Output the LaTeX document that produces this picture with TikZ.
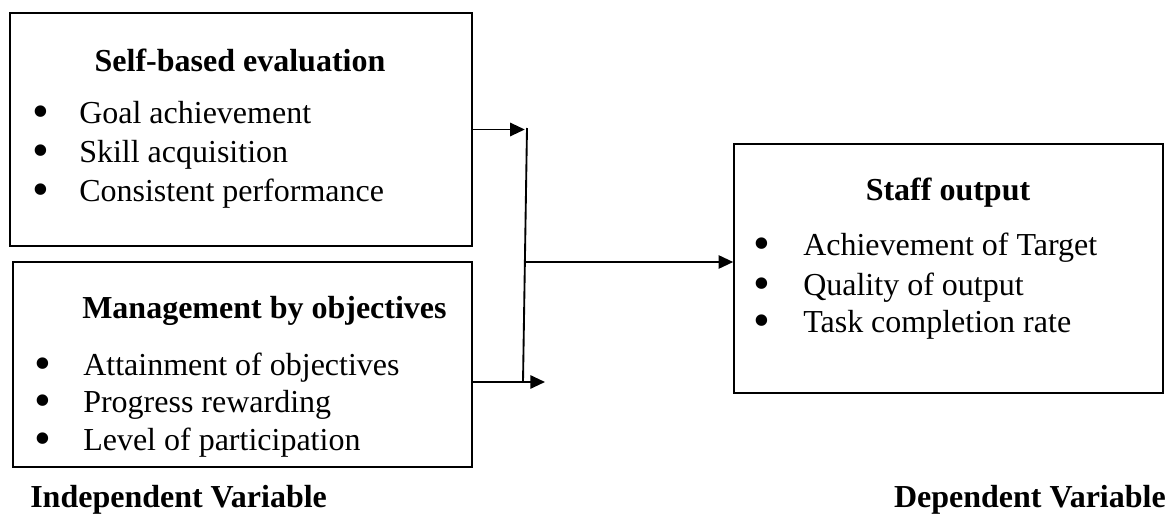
\documentclass[tikz,border=0pt]{standalone}
\usepackage{fontspec}
\setmainfont{Liberation Serif}
\usetikzlibrary{arrows.meta}

\newcommand{\blt}{\smash{\raisebox{-3.6pt}{\scalebox{1.5}{•}}}}
\newcommand{\bitem}[2][28.5pt]{\makebox[0pt]{\blt}\hspace{#1}#2}

\tikzset{
  varbox/.style={draw, line width=1.2pt, inner sep=0pt},
  txt/.style={inner sep=0pt, font=\fontsize{24}{29}\selectfont},
  hdr/.style={txt, font=\fontsize{24}{29}\selectfont\bfseries},
  link/.style={line width=1.4pt},
  tolink/.style={link, -{Triangle[length=11pt,width=10pt]}}
}

\begin{document}
\begin{tikzpicture}[x=0.75pt,y=0.75pt,yscale=-1,xscale=1]
    \useasboundingbox (0,0) rectangle (1168,514);

    %Shape: Rectangle [self-based evaluation]
    \node (seb) [varbox, minimum width=346.5pt, minimum height=174.75pt] at (241,129.5) {};
    %Shape: Rectangle [management by objectives]
    \node (mbo) [varbox, minimum width=344.25pt, minimum height=153.75pt] at (242.5,364.5) {};
    %Shape: Rectangle [staff output]
    \node (sto) [varbox, minimum width=321.75pt, minimum height=186.75pt] at (948.5,268.5) {};

    % Text Node
    \node (sebt) [hdr, anchor=base] at (240,71) {Self-based evaluation};
    \node (seb1) [txt, anchor=base west] at (41,123) {\bitem{Goal achievement}};
    \node (seb2) [txt, anchor=base west] at (41,162) {\bitem{Skill acquisition}};
    \node (seb3) [txt, anchor=base west] at (41,201) {\bitem{Consistent performance}};

    % Text Node
    \node (mbot) [hdr, anchor=base west] at (82,318) {Management by objectives};
    \node (mbo1) [txt, anchor=base west] at (43,375) {\bitem[30pt]{Attainment of objectives}};
    \node (mbo2) [txt, anchor=base west] at (43,412) {\bitem[30pt]{Progress rewarding}};
    \node (mbo3) [txt, anchor=base west] at (43,450) {\bitem[30pt]{Level of participation}};

    % Text Node
    \node (stot) [hdr, anchor=base] at (948,200) {Staff output};
    \node (sto1) [txt, anchor=base west] at (762,255) {\bitem[30.75pt]{Achievement of Target}};
    \node (sto2) [txt, anchor=base west] at (762,295) {\bitem[30.75pt]{Quality of output}};
    \node (sto3) [txt, anchor=base west] at (762,332) {\bitem[30.75pt]{Task completion rate}};

    % Text Node
    \node (indv) [hdr, anchor=base west] at (30,507) {Independent Variable};
    \node (depv) [hdr, anchor=base east] at (1166,507) {Dependent Variable};

    %Straight Lines
    \coordinate (jtop) at (527,128);
    \coordinate (jmid) at (525,262);
    \coordinate (jbot) at (523,382);
    \draw [tolink] (seb.east) -- ++(52,0);
    \draw [link] (jtop) -- (jbot);
    \draw [link] (mbo.east |- jbot) -- (jbot);
    \draw [tolink] (jbot) -- ++(22,0);
    \draw [tolink] (jmid) -- (sto.west |- jmid);
\end{tikzpicture}
\end{document}
